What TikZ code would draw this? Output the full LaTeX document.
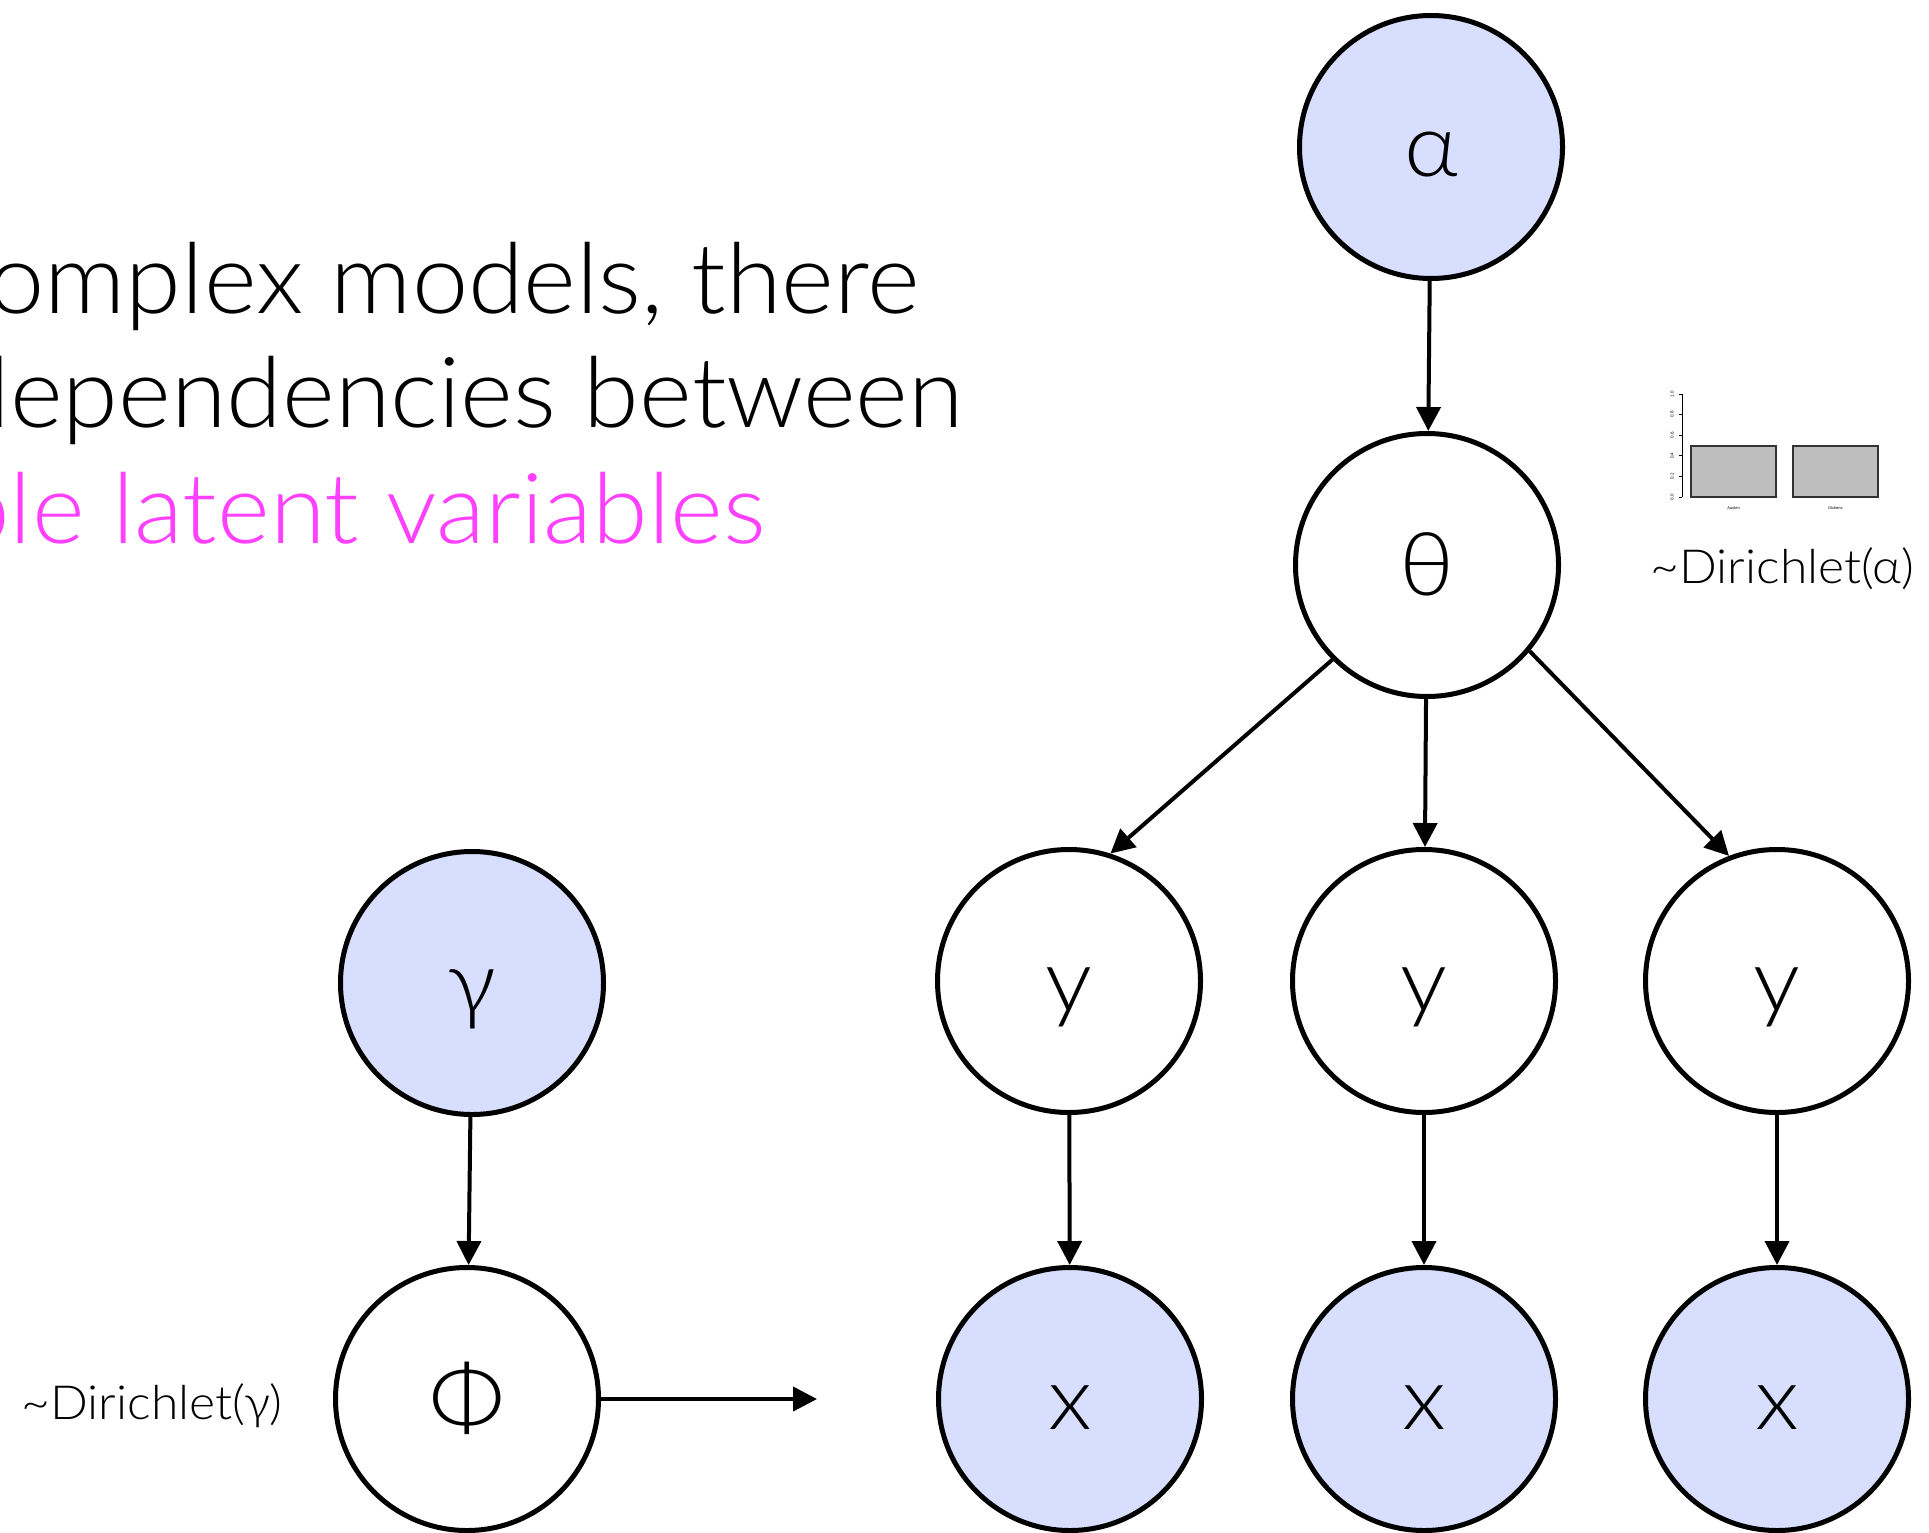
\documentclass[tikz,border=0pt]{standalone}
\usepackage{fontspec}
\setmainfont{Lato}[UprightFont=* Light, FakeStretch=1.06]
\newfontfamily\slidefont{Lato}[UprightFont=* Light, FakeStretch=1.03]
\newfontfamily\plotfont{Liberation Sans}
\usetikzlibrary{arrows.meta}

\definecolor{nodeblue}{RGB}{216,222,253}
\definecolor{accent}{RGB}{255,64,255}
\definecolor{barfill}{RGB}{190,190,190}
\definecolor{barline}{RGB}{51,51,51}

\begin{document}
\begin{tikzpicture}[x=1pt,y=-1pt,
  var/.style={circle, draw=black, line width=5pt, minimum size=263pt,
    inner sep=0pt, text height=60pt, text depth=0pt,
    font=\fontsize{88}{88}\selectfont},
  obs/.style={var, fill=nodeblue},
  edge/.style={line width=4pt, -{Triangle[length=24pt,width=24pt]}},
  slide/.style={anchor=base east, font=\slidefont\fontsize{98}{98}\selectfont},
  dlabel/.style={anchor=base west, font=\fontsize{47}{47}\selectfont},
  tick/.style={font=\plotfont\fontsize{4.5}{5}\selectfont, rotate=90},
  barname/.style={font=\plotfont\fontsize{4}{5}\selectfont},
]
\useasboundingbox (0,0) rectangle (1929,1533);
\clip (0,0) rectangle (1929,1533);

% slide text, cut by the left edge of the frame
\node[slide] (l1) at (923,313) {complex models, there};
\node[slide] (l2) at (967,427) {dependencies between};
\node[slide, text=accent] (l3) at (769,543) {multiple latent variables};

% document-level variables
\node[obs] (alpha) at (1431,147) {α};
\node[var] (theta) at (1427,565) {θ};
\node[var] (y1) at (1069,981) {y};
\node[var] (y2) at (1424,981) {y};
\node[var] (y3) at (1777,981) {y};
\node[obs] (x1) at (1070,1399) {x};
\node[obs] (x2) at (1424,1399) {x};
\node[obs] (x3) at (1777,1399) {x};

% topic-level variables
\node[obs] (gamma) at (472,983) {γ};
\node[var] (phi) at (467,1399) {Φ};
\coordinate (phiend) at (817,1399);

% edges
\draw[edge] (alpha) -- (theta);
\draw[edge] (theta.225) -- (y1.72);
\draw[edge] (theta) -- (y2);
\draw[edge] (theta.-40) -- (y3.111);
\draw[edge] (y1) -- (x1);
\draw[edge] (y2) -- (x2);
\draw[edge] (y3) -- (x3);
\draw[edge] (gamma) -- (phi);
\draw[edge] (phi) -- (phiend);

% priors
\node[dlabel] (dira) at (1647,583) {\textasciitilde{}Dirichlet(α)};
\node[dlabel] (dirg) at (18,1419) {\textasciitilde{}Dirichlet(γ)};

% small bar plot of a Dirichlet draw
\draw[line width=1pt] (1682,394) -- (1682,497);
\foreach \v/\yy in {0.0/497,0.2/476.4,0.4/455.8,0.6/435.2,0.8/414.6,1.0/394}{
  \draw[line width=0.8pt] (1678.5,\yy) -- (1682,\yy);
  \node[tick] at (1672,\yy) {\v};
}
\draw[fill=barfill, draw=barline, line width=1.5pt] (1691,446) rectangle (1776,497);
\draw[fill=barfill, draw=barline, line width=1.5pt] (1793,446) rectangle (1878,497);
\node[barname] (austen) at (1733.5,508) {Austen};
\node[barname] (dickens) at (1835.5,508) {Dickens};
\end{tikzpicture}
\end{document}
